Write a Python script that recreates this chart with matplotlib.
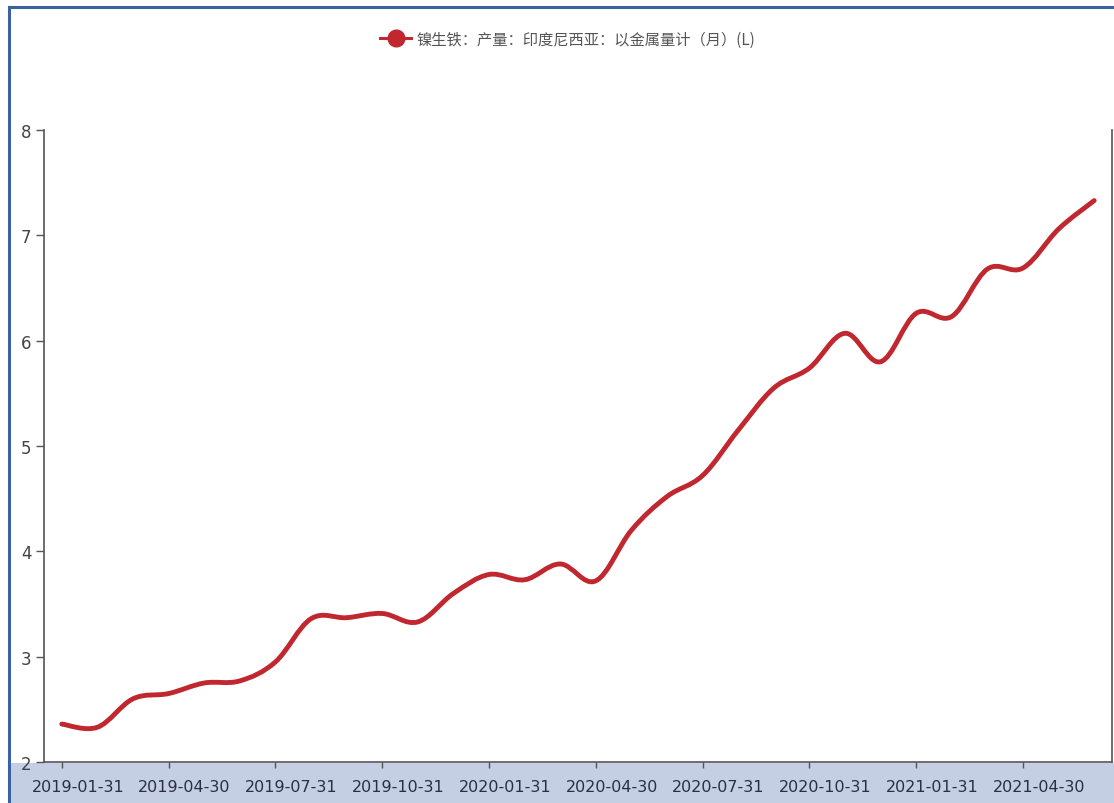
import numpy as np
import matplotlib
matplotlib.use("Agg")
import matplotlib.pyplot as plt
from matplotlib.path import Path
from matplotlib.patches import PathPatch, Rectangle
from matplotlib.lines import Line2D

dates = ["2019-01-31", "2019-02-28", "2019-03-31", "2019-04-30", "2019-05-31", "2019-06-30",
         "2019-07-31", "2019-08-31", "2019-09-30", "2019-10-31", "2019-11-30", "2019-12-31",
         "2020-01-31", "2020-02-29", "2020-03-31", "2020-04-30", "2020-05-31", "2020-06-30",
         "2020-07-31", "2020-08-31", "2020-09-30", "2020-10-31", "2020-11-30", "2020-12-31",
         "2021-01-31", "2021-02-28", "2021-03-31", "2021-04-30", "2021-05-31", "2021-06-30"]
values = [2.36, 2.33, 2.60, 2.65, 2.75, 2.77, 2.95, 3.36, 3.37, 3.41, 3.33, 3.60,
          3.78, 3.73, 3.88, 3.72, 4.20, 4.52, 4.72, 5.15, 5.55, 5.74, 6.07, 5.80,
          6.26, 6.23, 6.68, 6.69, 7.06, 7.33]
tick_labels = ["2019-01-31", "2019-04-30", "2019-07-31", "2019-10-31", "2020-01-31",
               "2020-04-30", "2020-07-31", "2020-10-31", "2021-01-31", "2021-04-30"]
series_name = "镍生铁：产量：印度尼西亚：以金属量计（月）(L)"

W, H = 1114, 804
fig = plt.figure(figsize=(W / 100, H / 100), dpi=100)
fig.patch.set_facecolor("white")

# bottom band and frame border
band = Rectangle((10 / W, 0), 1 - 10 / W, (804 - 764) / H, transform=fig.transFigure,
                 facecolor="#c5cfe3", edgecolor="none", zorder=-5)
fig.add_artist(band)
fig.add_artist(Line2D([9 / W, 9 / W], [0, 1 - 8 / H], transform=fig.transFigure,
                      color="#3a62a0", lw=2.2, zorder=-4))
fig.add_artist(Line2D([9 / W, 1], [1 - 8 / H, 1 - 8 / H], transform=fig.transFigure,
                      color="#3a62a0", lw=2.2, zorder=-4))

ax = fig.add_axes([44 / W, (804 - 763) / H, (1112 - 44) / W, (763 - 131) / H])
ax.set_zorder(2)
ax.set_facecolor("none")

line_color = "#c0272f"
x = np.arange(len(values), dtype=float)
y = np.array(values, dtype=float)

# smooth path (Catmull-Rom style bezier through data points)
verts = [(x[0], y[0])]
codes = [Path.MOVETO]
t = 0.35
n = len(x)
for i in range(n - 1):
    p0 = (x[i - 1], y[i - 1]) if i > 0 else (x[i], y[i])
    p1 = (x[i], y[i])
    p2 = (x[i + 1], y[i + 1])
    p3 = (x[i + 2], y[i + 2]) if i + 2 < n else (x[i + 1], y[i + 1])
    c1 = (p1[0] + (p2[0] - p0[0]) * t / 2, p1[1] + (p2[1] - p0[1]) * t / 2)
    c2 = (p2[0] - (p3[0] - p1[0]) * t / 2, p2[1] - (p3[1] - p1[1]) * t / 2)
    verts += [c1, c2, p2]
    codes += [Path.CURVE4] * 3
patch = PathPatch(Path(verts, codes), facecolor="none", edgecolor=line_color, lw=3.5,
                  capstyle="round", joinstyle="round", zorder=3)
ax.add_patch(patch)

ax.set_xlim(-0.5, len(values) - 0.5)
ax.set_ylim(2, 8)
ax.set_yticks([2, 3, 4, 5, 6, 7, 8])

tick_pos = [dates.index(d) for d in tick_labels]
# tick marks at the month positions, labels drawn slightly to the right (as in the source)
ax.set_xticks(tick_pos)
ax.set_xticklabels([])
ax.set_xticks([p + 0.45 for p in tick_pos], minor=True)
ax.set_xticklabels(tick_labels, minor=True)
ax.tick_params(axis="x", which="minor", length=0, pad=12, labelsize=11.5, labelcolor="#2b3040")
ax.tick_params(axis="x", which="major", length=4, width=1, color="#555555")

for lab in ax.get_yticklabels():
    lab.set_fontsize(12)
    lab.set_color("#444444")

for s in ["left", "bottom", "right"]:
    ax.spines[s].set_color("#555555")
    ax.spines[s].set_linewidth(1.2)
ax.spines["top"].set_visible(False)
ax.tick_params(axis="y", length=6, width=1, color="#555555", pad=3)

handle = Line2D([], [], color=line_color, lw=2.2, marker="o", markersize=12,
                markerfacecolor=line_color, markeredgecolor=line_color)
fig.legend([handle], [series_name], loc="center", bbox_to_anchor=(568 / W, 1 - 40 / H),
           frameon=False, handlelength=2.0, handletextpad=0.4,
           prop={"family": ["Noto Sans CJK SC", "DejaVu Sans"], "size": 11},
           labelcolor="#555555")

fig.savefig("out.png", dpi=100, facecolor="white")
